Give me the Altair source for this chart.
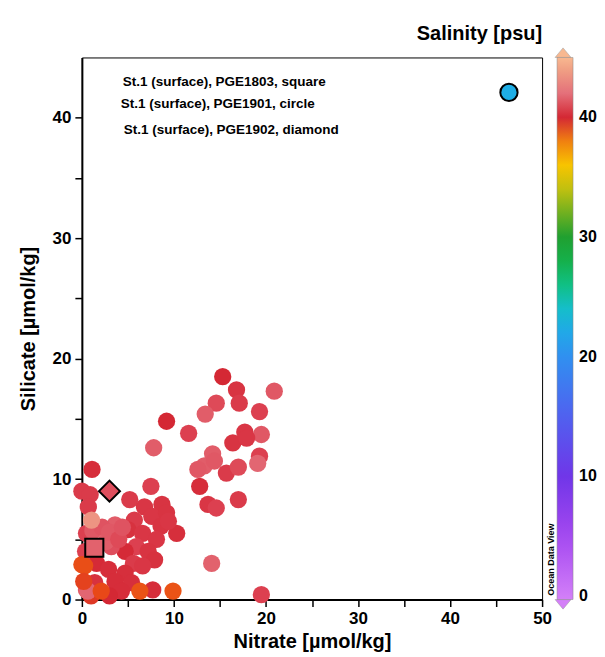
import altair as alt
import pandas as pd

# ---- data ----
circle_nitrate = [15.3, 16.8, 20.9, 14.6, 17.1, 13.4, 19.3, 9.2, 11.6, 17.7, 19.5, 16.4, 17.9,
                  7.8, 14.2, 19.3, 19.1, 13.3, 12.6, 14.4, 15.7, 17.0, 12.8, 13.7, 14.6, 17.0,
                  14.1, 19.5, 1.1, 7.5,
                  0.0, 0.9, 0.7, 0.5, 1.2, 3.6, 5.2, 6.8, 8.7, 5.7, 7.6, 9.2, 5.0, 6.6, 8.6,
                  10.3, 9.4, 8.1, 5.9, 4.7, 3.2, 7.2, 7.9, 5.6, 6.6, 2.2, 2.6, 3.0, 4.0, 4.4,
                  0.4, 1.6, 2.9, 4.7, 1.4, 3.6, 5.4, 4.3, 7.7, 3.0, 1.0, 0.5, 0.65,
                  1.05, 0.0, 0.3, 0.2, 2.1, 6.3, 9.9]
circle_silicate = [18.5, 17.4, 17.3, 16.3, 16.3, 15.4, 15.6, 14.8, 13.8, 13.9, 13.7, 13.0, 13.4,
                   12.6, 12.1, 11.9, 11.3, 11.1, 10.8, 11.5, 10.5, 11.0, 9.4, 7.9, 7.6, 8.3,
                   3.0, 0.4, 10.8, 9.4,
                   9.0, 8.7, 7.7, 5.5, 5.7, 6.2, 8.3, 7.7, 7.9, 6.6, 6.9, 7.2, 5.8, 5.5, 6.1,
                   5.5, 6.5, 5.0, 4.4, 4.0, 4.4, 4.0, 3.3, 3.0, 2.8, 6.0, 4.8, 5.6, 5.0, 6.0,
                   4.0, 3.0, 2.5, 2.2, 1.4, 1.5, 1.4, 0.7, 0.8, 0.3, 0.3, 0.8, 0.7,
                   6.6, 2.9, 2.8, 1.5, 0.7, 0.7, 0.7]
circle_salinity = [40.0, 40.5, 41.5, 41.2, 40.8, 41.6, 41.0, 40.0, 41.0, 40.6, 41.5, 40.5, 40.6,
                   41.6, 41.6, 41.0, 41.8, 41.6, 41.5, 41.5, 40.8, 41.2, 40.2, 40.6, 41.0, 40.8,
                   41.7, 41.0, 40.2, 41.0,
                   40.8, 40.8, 40.8, 41.0, 41.5, 41.6, 40.8, 40.6, 40.5, 40.8, 40.6, 40.5, 40.4,
                   40.6, 40.5, 40.3, 40.6, 40.6, 41.0, 40.1, 41.3, 40.5, 40.4, 40.8, 40.6, 41.4,
                   41.6, 41.5, 41.2, 41.4, 41.0, 40.1, 40.2, 40.3, 40.4, 40.2, 40.3, 40.2, 40.2,
                   40.0, 39.5, 41.5, 41.8,
                   43.5, 38.9, 38.9, 39.2, 39.0, 38.8, 38.8]

square_nitrate, square_silicate, square_salinity = [1.35], [4.3], [41.7]
diamond_nitrate, diamond_silicate, diamond_salinity = [3.0], [9.0], [41.3]
outlier_nitrate, outlier_silicate, outlier_salinity = [46.4], [42.1], [22.5]

notes = ["St.1 (surface), PGE1803, square",
         "St.1 (surface), PGE1901, circle",
         "St.1 (surface), PGE1902, diamond"]

sal_stops = [-0.3, 5, 10, 15, 20, 23, 25, 27, 30, 32, 34, 36, 38, 39, 40, 41, 42, 44, 45]
sal_colors = ["#d480f8", "#a448f0", "#7036e8", "#5060f0", "#3090f0", "#1ab4e4", "#10c8b0",
              "#10b858", "#20a030", "#70b020", "#c0c010", "#f8c400", "#f08010", "#e84818",
              "#d42834", "#dc4050", "#e4707a", "#f0a084", "#f8b890"]

# ---- frames ----
def frame(nx, sy, sa, kind):
    return pd.DataFrame({"nitrate": nx, "silicate": sy, "salinity": sa, "kind": kind})

df = pd.concat([
    frame(circle_nitrate, circle_silicate, circle_salinity, "circle"),
    frame(outlier_nitrate, outlier_silicate, outlier_salinity, "outlier"),
    frame(square_nitrate, square_silicate, square_salinity, "square"),
    frame(diamond_nitrate, diamond_silicate, diamond_salinity, "diamond"),
], ignore_index=True)

FONT = "Liberation Sans"

x = alt.X("nitrate:Q", title="Nitrate [µmol/kg]",
          scale=alt.Scale(domain=[0, 50], nice=False, zero=False),
          axis=alt.Axis(values=list(range(0, 51, 5)), labelFlush=False,
                        labelExpr="datum.value % 10 == 0 ? datum.label : ''",
                        tickSize=7, titlePadding=5))
y = alt.Y("silicate:Q", title="Silicate [µmol/kg]",
          scale=alt.Scale(domain=[0, 45], nice=False, zero=False),
          axis=alt.Axis(values=list(range(0, 41, 5)), labelFlush=False,
                        labelExpr="datum.value % 10 == 0 ? datum.label : ''",
                        tickSize=7, titlePadding=14))
color = alt.Color("salinity:Q",
                  scale=alt.Scale(domain=sal_stops, range=sal_colors, interpolate="rgb"),
                  legend=alt.Legend(title=None, values=[0, 10, 20, 30, 40],
                                    gradientLength=543, gradientThickness=16,
                                    offset=15, labelFontSize=16, labelFont=FONT,
                                    labelFontWeight="bold", labelColor="black",
                                    labelOverlap=False, labelBaseline="middle",
                                    labelOffset=6, gradientStrokeColor="#888",
                                    gradientStrokeWidth=0.5))

base = alt.Chart(df).encode(x=x, y=y, color=color)

circles = base.transform_filter("datum.kind == 'circle'").mark_circle(size=300, opacity=1)
outlier = base.transform_filter("datum.kind == 'outlier'").mark_point(
    shape="circle", filled=True, size=300, opacity=1, stroke="black", strokeWidth=2)
square = base.transform_filter("datum.kind == 'square'").mark_point(
    shape="square", filled=True, size=330, opacity=1, stroke="black", strokeWidth=2)
diamond = base.transform_filter("datum.kind == 'diamond'").mark_point(
    shape="diamond", filled=True, size=440, opacity=1, stroke="black", strokeWidth=2)

note_x = [41, 39, 42]
note_y = [25, 47, 73]
note_layers = []
for t, nx_, ny_ in zip(notes, note_x, note_y):
    note_layers.append(
        alt.Chart(pd.DataFrame({"t": [t]})).mark_text(
            align="left", baseline="middle", font=FONT, fontWeight="bold", fontSize=13.5,
            color="black").encode(text="t:N", x=alt.value(nx_), y=alt.value(ny_))
    )

odv = alt.Chart(pd.DataFrame({"t": ["Ocean Data View"]})).mark_text(
    angle=270, font=FONT, fontWeight="bold", fontSize=9, color="black",
    align="center", baseline="middle").encode(
    text="t:N", x=alt.value(470), y=alt.value(503))

# colour-bar end arrows (decoration of the legend)
tri_df = pd.DataFrame({"k": ["top"]})
tri_top = alt.Chart(tri_df).mark_point(
    shape="M-1,0.6L0,-0.6L1,0.6Z", filled=True, size=256, fill="#f8b890",
    stroke="#999", strokeWidth=0.5, opacity=1).encode(x=alt.value(482), y=alt.value(-4.8))
tri_bot = alt.Chart(tri_df).mark_point(
    shape="M-1,-0.6L0,0.6L1,-0.6Z", filled=True, size=256, fill="#d480f8",
    stroke="#999", strokeWidth=0.5, opacity=1).encode(x=alt.value(482), y=alt.value(547.8))

chart = alt.layer(circles, outlier, square, diamond, *note_layers, odv, tri_top, tri_bot).properties(
    width=461, height=543,
    padding={"left": 10, "right": 0, "top": 15, "bottom": 0},
    title=alt.TitleParams("Salinity [psu]", anchor="end", frame="group", fontSize=20,
                          font=FONT, fontWeight="bold", color="black", offset=3),
).configure_view(stroke="black", strokeWidth=1).configure_axis(
    grid=False, domainColor="black", domainWidth=2, tickColor="black", tickWidth=1.5,
    labelFont=FONT, labelFontWeight="bold", labelFontSize=17, labelColor="black",
    titleFont=FONT, titleFontWeight="bold", titleFontSize=20, titleColor="black",
    labelPadding=4,
)

chart.save("out.html", embed_options={"renderer": "svg", "actions": False})
